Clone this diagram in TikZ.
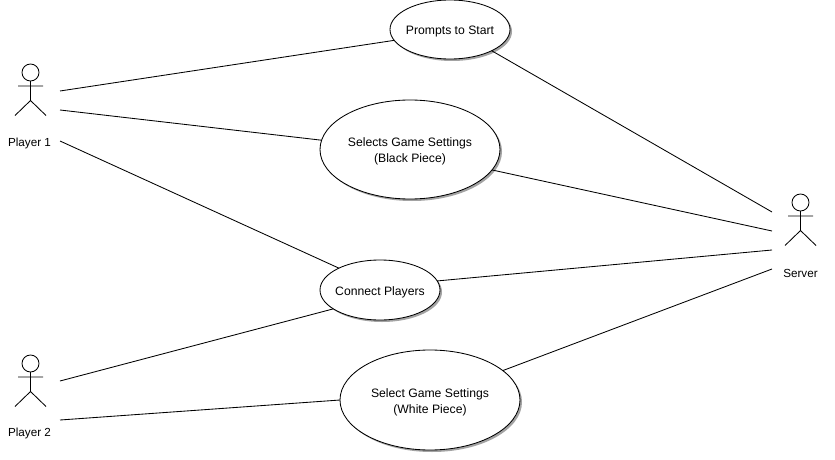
\documentclass[tikz,border=0pt]{standalone}
\usepackage{fontspec}
\setmainfont{Liberation Sans}
\usetikzlibrary{shapes.geometric,shadows}
\newcommand{\dropstrut}{\rule{0pt}{13pt}}
\newcommand{\narrowline}[1]{\makebox[70pt]{\dropstrut #1}}
\tikzset{
  every node/.style={font=\fontsize{12.2}{16}\selectfont},
  conn/.style={draw=black,line width=0.85pt},
  usecase/.style={ellipse,draw=black,line width=0.85pt,fill=white,inner sep=0pt,outer sep=0pt,align=center,
    drop shadow={shadow xshift=2pt,shadow yshift=-2pt,fill=black!45,opacity=0.8}},
  actorlabel/.style={inner sep=0pt,anchor=center,font=\fontsize{11.7}{15}\selectfont},
  actor/.pic={
    \draw[line width=0.85pt] (0,0) circle[radius=8.5];
    \draw[line width=0.85pt] (0,8.5) -- (0,28) (-12.5,13.5) -- (12.5,13.5)
      (-15.5,43) -- (0,28) -- (15.5,43);
  }
}
\begin{document}
\begin{tikzpicture}[x=1pt,y=-1pt]
\useasboundingbox[fill=white] (0,0) rectangle (835,460);
\pic at (30.5,72.5) {actor};
\pic at (30.5,363.5) {actor};
\pic at (800.5,202.5) {actor};
\node[actorlabel] (p1) at (29.5,143.5) {Player 1};
\node[actorlabel] (p2) at (29.5,433.5) {Player 2};
\node[actorlabel] (srv) at (800.5,273.5) {Server};
\coordinate (p1a) at (60,91);
\coordinate (p1b) at (60,110);
\coordinate (p1c) at (60,141);
\coordinate (p2a) at (60,381);
\coordinate (p2b) at (60,420);
\coordinate (sa) at (772,212);
\coordinate (sb) at (772,231);
\coordinate (sc) at (772,250);
\coordinate (sd) at (772,269);
\node[usecase,minimum width=120pt,minimum height=59pt] (prompt) at (450,29.5) {\narrowline{Prompts to Start}};
\node[usecase,minimum width=180pt,minimum height=99pt] (black) at (410,149.5) {\dropstrut Selects Game Settings\\(Black Piece)};
\node[usecase,minimum width=120pt,minimum height=60pt] (connect) at (380,290) {\narrowline{Connect Players}};
\node[usecase,minimum width=180pt,minimum height=100pt] (white) at (430,400) {\dropstrut Select Game Settings\\(White Piece)};
\draw[conn] (p1a) -- (prompt.191);
\draw[conn] (p1b) -- (black.174.3);
\draw[conn] (p1c) -- (connect.152.2);
\draw[conn] (p2a) -- (connect.202.2);
\draw[conn] (p2b) -- (white.180);
\draw[conn] (prompt.333.4) -- (sa);
\draw[conn] (black.346.5) -- (sb);
\draw[conn] (connect.9.5) -- (sc);
\draw[conn] (white.22.9) -- (sd);
\end{tikzpicture}
\end{document}
